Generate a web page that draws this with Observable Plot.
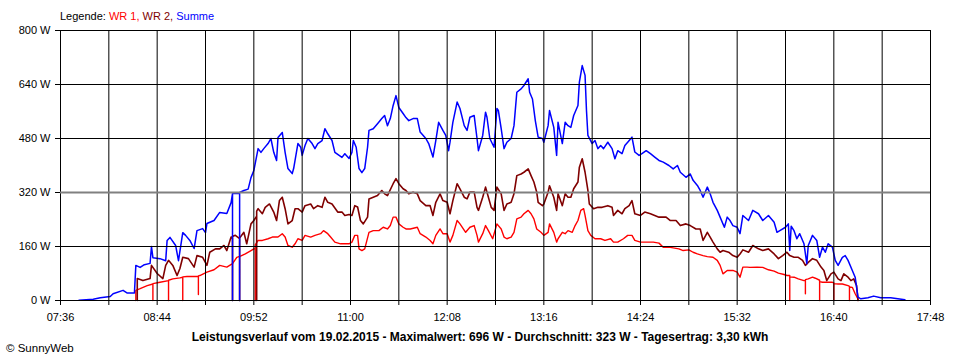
<!DOCTYPE html>
<html>
<head>
<meta charset="utf-8">
<script src="https://cdn.jsdelivr.net/npm/d3@7"></script>
<script src="https://cdn.jsdelivr.net/npm/@observablehq/plot@0.6"></script>
<style>
  body { margin: 0; background: #fff; }
  #wrap { position: relative; width: 960px; height: 360px; font-family: "Liberation Sans", Arial, sans-serif; font-size: 11px; color: #000; }
  #legend { position: absolute; left: 60px; top: 10px; line-height: 13px; white-space: nowrap; }
  #chart { position: absolute; left: 0; top: 0; }
  #title { position: absolute; left: 0; width: 960px; top: 330px; line-height: 14px; font-size: 12px; text-align: center; font-weight: bold; white-space: nowrap; }
  #copy { position: absolute; left: 6px; top: 342px; line-height: 13px; font-size: 11.5px; white-space: nowrap; }
</style>
</head>
<body>
<div id="wrap">
  <div id="chart"></div>
  <div id="legend"></div>
  <div id="title"></div>
  <div id="copy"></div>
</div>
<script>
// ---- data (time "HH:MM", watts) ----
const seriesNames = ["WR 1", "WR 2", "Summe"];
const seriesColors = ["#ff0000", "#800000", "#0000ff"];

const wr1 = [["08:29",0],["08:29",30],["08:32",35],["08:37",44],["08:41",49],["08:41",0],["08:41",50],["08:46",54],["08:52",59],["08:52",0],["08:52",60],["08:55",64],["09:00",67],["09:02",69],["09:02",0],["09:02",70],["09:05",71],["09:10",71],["09:13",72],["09:13",18],["09:13",73],["09:14",74],["09:19",84],["09:24",91],["09:28",104],["09:33",99],["09:37",109],["09:40",128],["09:43",132],["09:46",138],["09:50",148],["09:52",153],["09:53",153],["09:53",0],["09:53",165],["09:55",178],["09:58",178],["10:02",183],["10:05",188],["10:09",188],["10:12",198],["10:14",188],["10:16",163],["10:19",158],["10:21",168],["10:23",183],["10:26",178],["10:28",193],["10:32",188],["10:35",193],["10:39",198],["10:41",207],["10:44",198],["10:46",188],["10:49",173],["10:53",168],["10:55",168],["10:59",168],["11:01",173],["11:03",193],["11:05",193],["11:06",153],["11:08",148],["11:10",153],["11:13",202],["11:16",207],["11:20",207],["11:23",217],["11:26",212],["11:28",222],["11:30",247],["11:32",247],["11:34",227],["11:37",217],["11:39",212],["11:42",212],["11:47",217],["11:49",198],["11:53",188],["11:56",178],["11:58",168],["12:00",193],["12:03",212],["12:05",198],["12:08",198],["12:10",173],["12:12",193],["12:15",237],["12:17",227],["12:21",202],["12:24",217],["12:27",222],["12:29",193],["12:30",173],["12:33",198],["12:35",222],["12:37",207],["12:40",183],["12:43",227],["12:46",212],["12:48",188],["12:50",183],["12:53",188],["12:55",202],["12:57",242],["13:00",247],["13:02",257],["13:05",267],["13:07",257],["13:09",242],["13:11",212],["13:14",202],["13:16",193],["13:19",202],["13:20",227],["13:23",202],["13:25",173],["13:26",183],["13:29",202],["13:31",198],["13:33",207],["13:36",202],["13:38",222],["13:40",237],["13:42",267],["13:44",272],["13:45",252],["13:47",207],["13:49",193],["13:52",183],["13:56",183],["13:59",178],["14:03",183],["14:05",173],["14:08",173],["14:12",183],["14:15",193],["14:18",193],["14:20",178],["14:24",173],["14:29",173],["14:33",173],["14:37",170],["14:40",158],["14:44",158],["14:47",156],["14:51",153],["14:54",148],["14:58",150],["15:01",143],["15:04",138],["15:08",133],["15:11",130],["15:15",128],["15:18",119],["15:20",104],["15:22",79],["15:25",89],["15:29",89],["15:32",84],["15:34",69],["15:36",99],["15:39",99],["15:41",98],["15:46",99],["15:50",98],["15:54",91],["15:58",87],["16:01",81],["16:05",77],["16:07",74],["16:09",74],["16:09",0],["16:09",70],["16:12",69],["16:15",64],["16:19",59],["16:20",59],["16:20",20],["16:20",62],["16:22",64],["16:25",69],["16:27",66],["16:30",60],["16:30",0],["16:30",56],["16:32",54],["16:35",54],["16:39",54],["16:40",52],["16:40",0],["16:40",50],["16:43",49],["16:46",49],["16:50",44],["16:51",42],["16:51",0],["16:51",40],["16:53",39],["16:55",20],["16:57",5],["16:57",0]];

const wr2 = [["08:30",0],["08:30",65],["08:34",59],["08:39",65],["08:40",104],["08:44",80],["08:48",65],["08:50",104],["08:52",119],["08:55",104],["08:58",74],["09:00",95],["09:02",128],["09:06",124],["09:10",99],["09:12",133],["09:16",128],["09:19",104],["09:21",143],["09:25",153],["09:28",153],["09:31",163],["09:33",148],["09:36",188],["09:37",183],["09:37",0],["09:37",190],["09:39",193],["09:42",183],["09:42",0],["09:42",185],["09:45",202],["09:47",168],["09:50",227],["09:52",237],["09:54",250],["09:54",0],["09:54",265],["09:55",272],["09:58",257],["10:00",276],["10:03",286],["10:06",262],["10:08",237],["10:10",296],["10:12",306],["10:14",272],["10:16",227],["10:19",237],["10:21",272],["10:23",272],["10:26",262],["10:28",281],["10:32",286],["10:34",272],["10:37",281],["10:40",276],["10:42",306],["10:44",291],["10:47",286],["10:51",262],["10:54",262],["10:56",252],["10:59",255],["11:01",252],["11:03",281],["11:05",277],["11:07",237],["11:09",227],["11:12",247],["11:13",301],["11:16",306],["11:19",311],["11:22",326],["11:24",316],["11:26",311],["11:30",346],["11:32",361],["11:34",346],["11:37",331],["11:39",326],["11:41",316],["11:44",321],["11:47",316],["11:49",296],["11:53",281],["11:56",281],["11:58",252],["12:00",291],["12:03",316],["12:05",296],["12:08",291],["12:10",257],["12:12",296],["12:15",346],["12:17",331],["12:20",306],["12:22",301],["12:24",321],["12:27",321],["12:29",276],["12:30",267],["12:33",306],["12:35",336],["12:37",306],["12:39",276],["12:41",267],["12:43",336],["12:46",316],["12:48",267],["12:50",286],["12:53",291],["12:55",316],["12:57",370],["13:00",375],["13:02",380],["13:05",390],["13:07",370],["13:09",351],["13:11",321],["13:12",291],["13:15",281],["13:16",286],["13:19",321],["13:20",340],["13:23",306],["13:25",267],["13:26",316],["13:29",281],["13:31",316],["13:33",306],["13:35",306],["13:37",331],["13:40",351],["13:41",395],["13:43",420],["13:45",380],["13:47",326],["13:48",286],["13:51",272],["13:54",276],["13:57",276],["14:01",281],["14:04",276],["14:05",252],["14:08",267],["14:11",257],["14:13",272],["14:16",281],["14:18",296],["14:20",257],["14:24",252],["14:27",262],["14:31",257],["14:34",252],["14:37",247],["14:42",247],["14:45",237],["14:49",237],["14:52",222],["14:56",227],["14:59",222],["15:03",212],["15:06",212],["15:08",178],["15:11",202],["15:13",188],["15:15",173],["15:18",153],["15:20",143],["15:22",148],["15:26",143],["15:29",133],["15:32",128],["15:34",138],["15:36",150],["15:40",143],["15:43",163],["15:47",153],["15:50",148],["15:54",153],["15:58",138],["16:01",124],["16:04",133],["16:07",143],["16:09",133],["16:12",128],["16:15",128],["16:18",119],["16:20",104],["16:22",113],["16:25",124],["16:28",119],["16:31",99],["16:33",89],["16:35",59],["16:38",79],["16:40",84],["16:43",64],["16:45",59],["16:47",79],["16:50",69],["16:52",59],["16:54",64],["16:56",44],["16:57",0]];

const summe = [["07:49",1],["07:59",4],["08:04",8],["08:11",12],["08:13",20],["08:20",30],["08:23",22],["08:28",22],["08:29",104],["08:32",98],["08:35",106],["08:39",110],["08:40",160],["08:41",127],["08:46",124],["08:50",118],["08:51",178],["08:53",187],["08:57",163],["08:59",118],["09:02",201],["09:04",193],["09:07",178],["09:10",154],["09:12",207],["09:16",213],["09:18",201],["09:19",228],["09:24",237],["09:28",261],["09:33",258],["09:36",290],["09:37",317],["09:37",0],["09:37",317],["09:40",317],["09:42",317],["09:42",0],["09:42",320],["09:45",326],["09:48",330],["09:50",364],["09:52",385],["09:55",450],["09:57",439],["09:59",450],["10:02",465],["10:04",480],["10:06",439],["10:08",415],["10:09",483],["10:12",498],["10:14",439],["10:16",391],["10:19",376],["10:20",391],["10:23",465],["10:25",454],["10:26",430],["10:28",459],["10:30",480],["10:33",465],["10:35",450],["10:37",465],["10:40",474],["10:42",509],["10:44",494],["10:47",474],["10:49",439],["10:52",430],["10:54",424],["10:56",435],["10:59",421],["11:01",439],["11:02",474],["11:04",454],["11:06",391],["11:08",379],["11:10",391],["11:12",454],["11:13",504],["11:16",509],["11:19",524],["11:22",539],["11:24",548],["11:26",518],["11:28",539],["11:30",578],["11:32",607],["11:34",572],["11:37",554],["11:39",542],["11:41",533],["11:44",539],["11:47",539],["11:49",499],["11:53",480],["11:55",465],["11:58",425],["12:00",474],["12:02",528],["12:05",504],["12:07",489],["12:09",444],["12:10",469],["12:12",528],["12:15",588],["12:17",569],["12:20",518],["12:22",504],["12:24",543],["12:27",548],["12:29",480],["12:30",444],["12:33",489],["12:35",558],["12:36",543],["12:38",480],["12:41",454],["12:43",569],["12:44",563],["12:46",509],["12:48",450],["12:50",469],["12:53",480],["12:55",518],["12:57",617],["13:00",627],["13:02",637],["13:05",657],["13:06",617],["13:08",597],["13:10",533],["13:12",484],["13:15",480],["13:16",469],["13:19",518],["13:20",563],["13:23",513],["13:25",430],["13:26",528],["13:29",465],["13:31",528],["13:33",518],["13:35",513],["13:37",548],["13:40",578],["13:41",647],["13:43",696],["13:45",667],["13:46",563],["13:47",489],["13:50",465],["13:52",474],["13:54",450],["13:56",459],["13:58",450],["14:01",469],["14:04",450],["14:06",420],["14:08",444],["14:11",435],["14:13",459],["14:15",469],["14:18",484],["14:20",440],["14:23",430],["14:25",435],["14:28",444],["14:31",435],["14:34",425],["14:37",415],["14:40",410],["14:44",400],["14:47",390],["14:50",400],["14:52",380],["14:56",365],["14:59",375],["15:01",356],["15:04",341],["15:06",326],["15:08",306],["15:11",336],["15:13",316],["15:15",291],["15:18",267],["15:20",247],["15:23",217],["15:25",247],["15:27",237],["15:29",222],["15:32",217],["15:34",198],["15:36",252],["15:40",237],["15:43",267],["15:47",257],["15:50",237],["15:54",252],["15:58",232],["16:00",202],["16:02",207],["16:06",217],["16:08",227],["16:09",148],["16:10",220],["16:12",207],["16:14",183],["16:16",198],["16:19",168],["16:21",109],["16:22",163],["16:25",193],["16:28",178],["16:30",128],["16:32",158],["16:34",143],["16:36",168],["16:39",158],["16:41",119],["16:43",104],["16:46",128],["16:48",133],["16:50",119],["16:53",89],["16:55",69],["16:57",10],["16:59",5],["17:04",8],["17:08",13],["17:13",8],["17:20",8],["17:25",5],["17:30",2]];

const gridTimes = ["07:36","08:10","08:44","09:18","09:52","10:26","11:00","11:34","12:08","12:42","13:16","13:50","14:24","14:58","15:32","16:06","16:40","17:14","17:48"];
const xTickLabels = ["07:36","08:44","09:52","11:00","12:08","13:16","14:24","15:32","16:40","17:48"];
const yTicks = [0, 160, 320, 480, 640, 800];
const yDomain = [0, 800];
const titleText = "Leistungsverlauf vom 19.02.2015 - Maximalwert: 696 W - Durchschnitt: 323 W - Tagesertrag: 3,30 kWh";
const legendLabel = "Legende: ";
const copyText = "© SunnyWeb";

// ---- helpers ----
const parse = s => { const [h, m] = s.split(":").map(Number); return new Date(Date.UTC(2015, 1, 19, h, m)); };
const fmt = d3.utcFormat("%H:%M");
const toRows = arr => arr.map(([t, v]) => ({t: parse(t), v}));
const labelSet = new Set(xTickLabels);

const chart = Plot.plot({
  width: 960,
  height: 360,
  marginLeft: 60,
  marginRight: 30,
  marginTop: 30,
  marginBottom: 60,
  style: {fontFamily: "'Liberation Sans', Arial, sans-serif", fontSize: "11px", color: "#000", background: "#fff", overflow: "visible"},
  x: {type: "utc", domain: [parse(gridTimes[0]), parse(gridTimes[gridTimes.length - 1])]},
  y: {domain: yDomain},
  marks: [
    Plot.line(toRows(wr1), {x: "t", y: "v", stroke: seriesColors[0], strokeWidth: 1.4}),
    Plot.line(toRows(wr2), {x: "t", y: "v", stroke: seriesColors[1], strokeWidth: 1.6}),
    Plot.line(toRows(summe), {x: "t", y: "v", stroke: seriesColors[2], strokeWidth: 1.5}),
    Plot.gridX(gridTimes.map(parse), {stroke: "#000", strokeOpacity: 1, strokeWidth: 1}),
    Plot.gridY(yTicks.filter(v => v !== 320), {stroke: "#000", strokeOpacity: 1, strokeWidth: 1}),
    Plot.ruleY([320], {stroke: "#808080", strokeWidth: 2}),
    Plot.axisY(yTicks, {tickFormat: d => d + " W", tickSize: 5, tickPadding: 5, label: null, stroke: "#000"}),
    Plot.axisX(gridTimes.map(parse), {tickFormat: d => labelSet.has(fmt(d)) ? fmt(d) : "", tickSize: 5, tickPadding: 8, label: null, stroke: "#000"})
  ]
});
document.getElementById("chart").appendChild(chart);

const legend = document.getElementById("legend");
legend.appendChild(document.createTextNode(legendLabel));
seriesNames.forEach((name, i) => {
  const span = document.createElement("span");
  span.style.color = seriesColors[i];
  span.textContent = name + (i < seriesNames.length - 1 ? ", " : "");
  legend.appendChild(span);
});
document.getElementById("title").textContent = titleText;
document.getElementById("copy").textContent = copyText;
</script>
</body>
</html>
